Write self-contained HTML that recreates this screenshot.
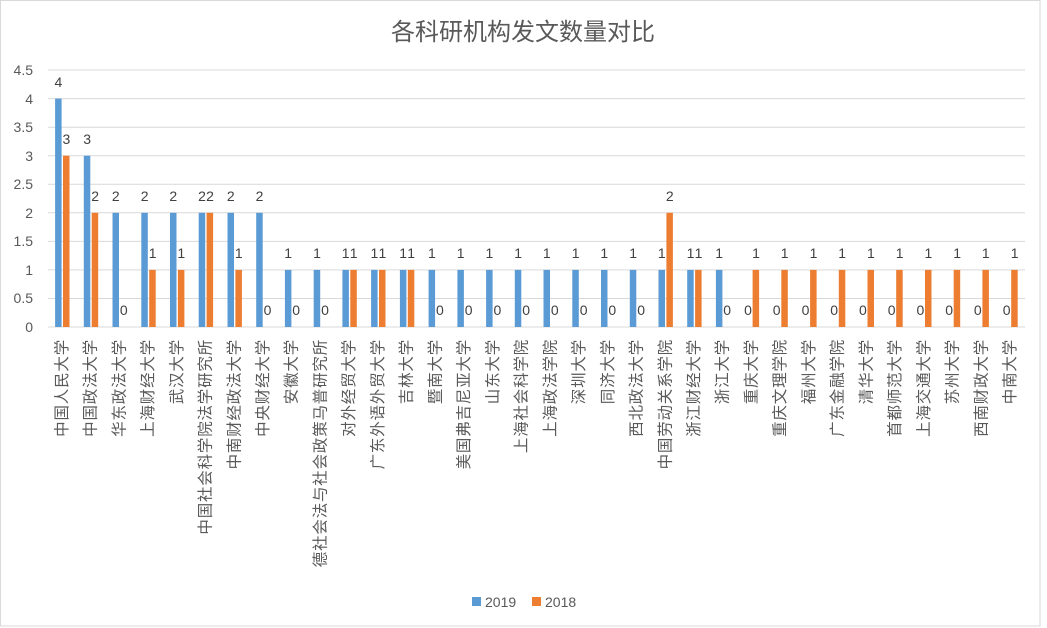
<!DOCTYPE html>
<html><head><meta charset="utf-8"><style>
html,body{margin:0;padding:0;background:#fff}
svg{display:block}
text{font-family:"Liberation Sans","Noto Sans CJK SC",sans-serif}
.b{fill:#5b9bd5}.o{fill:#ed7d31}
.v{font-size:14px;fill:#404040;text-anchor:middle}
.c{font-size:15.5px;fill:#595959;text-anchor:end;dominant-baseline:central;letter-spacing:0.8px}
.y{font-size:14px;fill:#595959;text-anchor:end}
.g{stroke:#d9d9d9;stroke-width:1}
</style></head><body>
<svg width="1047" height="628" viewBox="0 0 1047 628" xmlns="http://www.w3.org/2000/svg">
<rect x="0.5" y="0.5" width="1039.5" height="625.5" fill="#fff" stroke="#d9d9d9"/>
<text x="523" y="40" style="font-size:24px;fill:#595959;text-anchor:middle">各科研机构发文数量对比</text>
<g class="g">
<line x1="48" x2="1025" y1="70" y2="70"/><line x1="48" x2="1025" y1="98.6" y2="98.6"/>
<line x1="48" x2="1025" y1="127.2" y2="127.2"/><line x1="48" x2="1025" y1="155.7" y2="155.7"/>
<line x1="48" x2="1025" y1="184.3" y2="184.3"/><line x1="48" x2="1025" y1="212.8" y2="212.8"/>
<line x1="48" x2="1025" y1="241.4" y2="241.4"/><line x1="48" x2="1025" y1="269.9" y2="269.9"/>
<line x1="48" x2="1025" y1="298.5" y2="298.5"/><line x1="48" x2="1025" y1="327" y2="327"/>
</g>
<g class="y">
<text x="33" y="75">4.5</text><text x="33" y="104">4</text><text x="33" y="132">3.5</text><text x="33" y="161">3</text><text x="33" y="189">2.5</text><text x="33" y="218">2</text><text x="33" y="246">1.5</text><text x="33" y="275">1</text><text x="33" y="303">0.5</text><text x="33" y="332">0</text>
</g>

<g transform="translate(62.4,0)"><rect class="b" x="-7.3" y="98.6" width="6.5" height="228.4"/><rect class="o" x="0.6" y="155.7" width="6.5" height="171.3"/><text class="v" x="-4" y="87">4</text><text class="v" x="4" y="144">3</text><text class="c" transform="rotate(-90)" x="-339" y="0">中国人民大学</text></g>
<g transform="translate(91.1,0)"><rect class="b" x="-7.3" y="155.7" width="6.5" height="171.3"/><rect class="o" x="0.6" y="212.8" width="6.5" height="114.2"/><text class="v" x="-4" y="144">3</text><text class="v" x="4" y="201">2</text><text class="c" transform="rotate(-90)" x="-339" y="0">中国政法大学</text></g>
<g transform="translate(119.8,0)"><rect class="b" x="-7.3" y="212.8" width="6.5" height="114.2"/><text class="v" x="-4" y="201">2</text><text class="v" x="4" y="315">0</text><text class="c" transform="rotate(-90)" x="-339" y="0">华东政法大学</text></g>
<g transform="translate(148.6,0)"><rect class="b" x="-7.3" y="212.8" width="6.5" height="114.2"/><rect class="o" x="0.6" y="269.9" width="6.5" height="57.1"/><text class="v" x="-4" y="201">2</text><text class="v" x="4" y="258">1</text><text class="c" transform="rotate(-90)" x="-339" y="0">上海财经大学</text></g>
<g transform="translate(177.3,0)"><rect class="b" x="-7.3" y="212.8" width="6.5" height="114.2"/><rect class="o" x="0.6" y="269.9" width="6.5" height="57.1"/><text class="v" x="-4" y="201">2</text><text class="v" x="4" y="258">1</text><text class="c" transform="rotate(-90)" x="-339" y="0">武汉大学</text></g>
<g transform="translate(206.0,0)"><rect class="b" x="-7.3" y="212.8" width="6.5" height="114.2"/><rect class="o" x="0.6" y="212.8" width="6.5" height="114.2"/><text class="v" x="-4" y="201">2</text><text class="v" x="4" y="201">2</text><text class="c" transform="rotate(-90)" x="-339" y="0">中国社会科学院法学研究所</text></g>
<g transform="translate(234.8,0)"><rect class="b" x="-7.3" y="212.8" width="6.5" height="114.2"/><rect class="o" x="0.6" y="269.9" width="6.5" height="57.1"/><text class="v" x="-4" y="201">2</text><text class="v" x="4" y="258">1</text><text class="c" transform="rotate(-90)" x="-339" y="0">中南财经政法大学</text></g>
<g transform="translate(263.5,0)"><rect class="b" x="-7.3" y="212.8" width="6.5" height="114.2"/><text class="v" x="-4" y="201">2</text><text class="v" x="4" y="315">0</text><text class="c" transform="rotate(-90)" x="-339" y="0">中央财经大学</text></g>
<g transform="translate(292.2,0)"><rect class="b" x="-7.3" y="269.9" width="6.5" height="57.1"/><text class="v" x="-4" y="258">1</text><text class="v" x="4" y="315">0</text><text class="c" transform="rotate(-90)" x="-339" y="0">安徽大学</text></g>
<g transform="translate(321.0,0)"><rect class="b" x="-7.3" y="269.9" width="6.5" height="57.1"/><text class="v" x="-4" y="258">1</text><text class="v" x="4" y="315">0</text><text class="c" transform="rotate(-90)" x="-339" y="0">德社会法与社会政策马普研究所</text></g>
<g transform="translate(349.7,0)"><rect class="b" x="-7.3" y="269.9" width="6.5" height="57.1"/><rect class="o" x="0.6" y="269.9" width="6.5" height="57.1"/><text class="v" x="-4" y="258">1</text><text class="v" x="4" y="258">1</text><text class="c" transform="rotate(-90)" x="-339" y="0">对外经贸大学</text></g>
<g transform="translate(378.4,0)"><rect class="b" x="-7.3" y="269.9" width="6.5" height="57.1"/><rect class="o" x="0.6" y="269.9" width="6.5" height="57.1"/><text class="v" x="-4" y="258">1</text><text class="v" x="4" y="258">1</text><text class="c" transform="rotate(-90)" x="-339" y="0">广东外语外贸大学</text></g>
<g transform="translate(407.2,0)"><rect class="b" x="-7.3" y="269.9" width="6.5" height="57.1"/><rect class="o" x="0.6" y="269.9" width="6.5" height="57.1"/><text class="v" x="-4" y="258">1</text><text class="v" x="4" y="258">1</text><text class="c" transform="rotate(-90)" x="-339" y="0">吉林大学</text></g>
<g transform="translate(435.9,0)"><rect class="b" x="-7.3" y="269.9" width="6.5" height="57.1"/><text class="v" x="-4" y="258">1</text><text class="v" x="4" y="315">0</text><text class="c" transform="rotate(-90)" x="-339" y="0">暨南大学</text></g>
<g transform="translate(464.7,0)"><rect class="b" x="-7.3" y="269.9" width="6.5" height="57.1"/><text class="v" x="-4" y="258">1</text><text class="v" x="4" y="315">0</text><text class="c" transform="rotate(-90)" x="-339" y="0">美国弗吉尼亚大学</text></g>
<g transform="translate(493.4,0)"><rect class="b" x="-7.3" y="269.9" width="6.5" height="57.1"/><text class="v" x="-4" y="258">1</text><text class="v" x="4" y="315">0</text><text class="c" transform="rotate(-90)" x="-339" y="0">山东大学</text></g>
<g transform="translate(522.1,0)"><rect class="b" x="-7.3" y="269.9" width="6.5" height="57.1"/><text class="v" x="-4" y="258">1</text><text class="v" x="4" y="315">0</text><text class="c" transform="rotate(-90)" x="-339" y="0">上海社会科学院</text></g>
<g transform="translate(550.8,0)"><rect class="b" x="-7.3" y="269.9" width="6.5" height="57.1"/><text class="v" x="-4" y="258">1</text><text class="v" x="4" y="315">0</text><text class="c" transform="rotate(-90)" x="-339" y="0">上海政法学院</text></g>
<g transform="translate(579.6,0)"><rect class="b" x="-7.3" y="269.9" width="6.5" height="57.1"/><text class="v" x="-4" y="258">1</text><text class="v" x="4" y="315">0</text><text class="c" transform="rotate(-90)" x="-339" y="0">深圳大学</text></g>
<g transform="translate(608.3,0)"><rect class="b" x="-7.3" y="269.9" width="6.5" height="57.1"/><text class="v" x="-4" y="258">1</text><text class="v" x="4" y="315">0</text><text class="c" transform="rotate(-90)" x="-339" y="0">同济大学</text></g>
<g transform="translate(637.1,0)"><rect class="b" x="-7.3" y="269.9" width="6.5" height="57.1"/><text class="v" x="-4" y="258">1</text><text class="v" x="4" y="315">0</text><text class="c" transform="rotate(-90)" x="-339" y="0">西北政法大学</text></g>
<g transform="translate(665.8,0)"><rect class="b" x="-7.3" y="269.9" width="6.5" height="57.1"/><rect class="o" x="0.6" y="212.8" width="6.5" height="114.2"/><text class="v" x="-4" y="258">1</text><text class="v" x="4" y="201">2</text><text class="c" transform="rotate(-90)" x="-339" y="0">中国劳动关系学院</text></g>
<g transform="translate(694.5,0)"><rect class="b" x="-7.3" y="269.9" width="6.5" height="57.1"/><rect class="o" x="0.6" y="269.9" width="6.5" height="57.1"/><text class="v" x="-4" y="258">1</text><text class="v" x="4" y="258">1</text><text class="c" transform="rotate(-90)" x="-339" y="0">浙江财经大学</text></g>
<g transform="translate(723.2,0)"><rect class="b" x="-7.3" y="269.9" width="6.5" height="57.1"/><text class="v" x="-4" y="258">1</text><text class="v" x="4" y="315">0</text><text class="c" transform="rotate(-90)" x="-339" y="0">浙江大学</text></g>
<g transform="translate(752.0,0)"><rect class="o" x="0.6" y="269.9" width="6.5" height="57.1"/><text class="v" x="-4" y="315">0</text><text class="v" x="4" y="258">1</text><text class="c" transform="rotate(-90)" x="-339" y="0">重庆大学</text></g>
<g transform="translate(780.7,0)"><rect class="o" x="0.6" y="269.9" width="6.5" height="57.1"/><text class="v" x="-4" y="315">0</text><text class="v" x="4" y="258">1</text><text class="c" transform="rotate(-90)" x="-339" y="0">重庆文理学院</text></g>
<g transform="translate(809.5,0)"><rect class="o" x="0.6" y="269.9" width="6.5" height="57.1"/><text class="v" x="-4" y="315">0</text><text class="v" x="4" y="258">1</text><text class="c" transform="rotate(-90)" x="-339" y="0">福州大学</text></g>
<g transform="translate(838.2,0)"><rect class="o" x="0.6" y="269.9" width="6.5" height="57.1"/><text class="v" x="-4" y="315">0</text><text class="v" x="4" y="258">1</text><text class="c" transform="rotate(-90)" x="-339" y="0">广东金融学院</text></g>
<g transform="translate(866.9,0)"><rect class="o" x="0.6" y="269.9" width="6.5" height="57.1"/><text class="v" x="-4" y="315">0</text><text class="v" x="4" y="258">1</text><text class="c" transform="rotate(-90)" x="-339" y="0">清华大学</text></g>
<g transform="translate(895.6,0)"><rect class="o" x="0.6" y="269.9" width="6.5" height="57.1"/><text class="v" x="-4" y="315">0</text><text class="v" x="4" y="258">1</text><text class="c" transform="rotate(-90)" x="-339" y="0">首都师范大学</text></g>
<g transform="translate(924.4,0)"><rect class="o" x="0.6" y="269.9" width="6.5" height="57.1"/><text class="v" x="-4" y="315">0</text><text class="v" x="4" y="258">1</text><text class="c" transform="rotate(-90)" x="-339" y="0">上海交通大学</text></g>
<g transform="translate(953.1,0)"><rect class="o" x="0.6" y="269.9" width="6.5" height="57.1"/><text class="v" x="-4" y="315">0</text><text class="v" x="4" y="258">1</text><text class="c" transform="rotate(-90)" x="-339" y="0">苏州大学</text></g>
<g transform="translate(981.8,0)"><rect class="o" x="0.6" y="269.9" width="6.5" height="57.1"/><text class="v" x="-4" y="315">0</text><text class="v" x="4" y="258">1</text><text class="c" transform="rotate(-90)" x="-339" y="0">西南财政大学</text></g>
<g transform="translate(1010.6,0)"><rect class="o" x="0.6" y="269.9" width="6.5" height="57.1"/><text class="v" x="-4" y="315">0</text><text class="v" x="4" y="258">1</text><text class="c" transform="rotate(-90)" x="-339" y="0">中南大学</text></g>

<rect class="b" x="472" y="597" width="9" height="9"/>
<text x="485" y="607" style="font-size:14px;fill:#595959">2019</text>
<rect class="o" x="532" y="597" width="9" height="9"/>
<text x="545" y="607" style="font-size:14px;fill:#595959">2018</text>
</svg>
</body></html>
